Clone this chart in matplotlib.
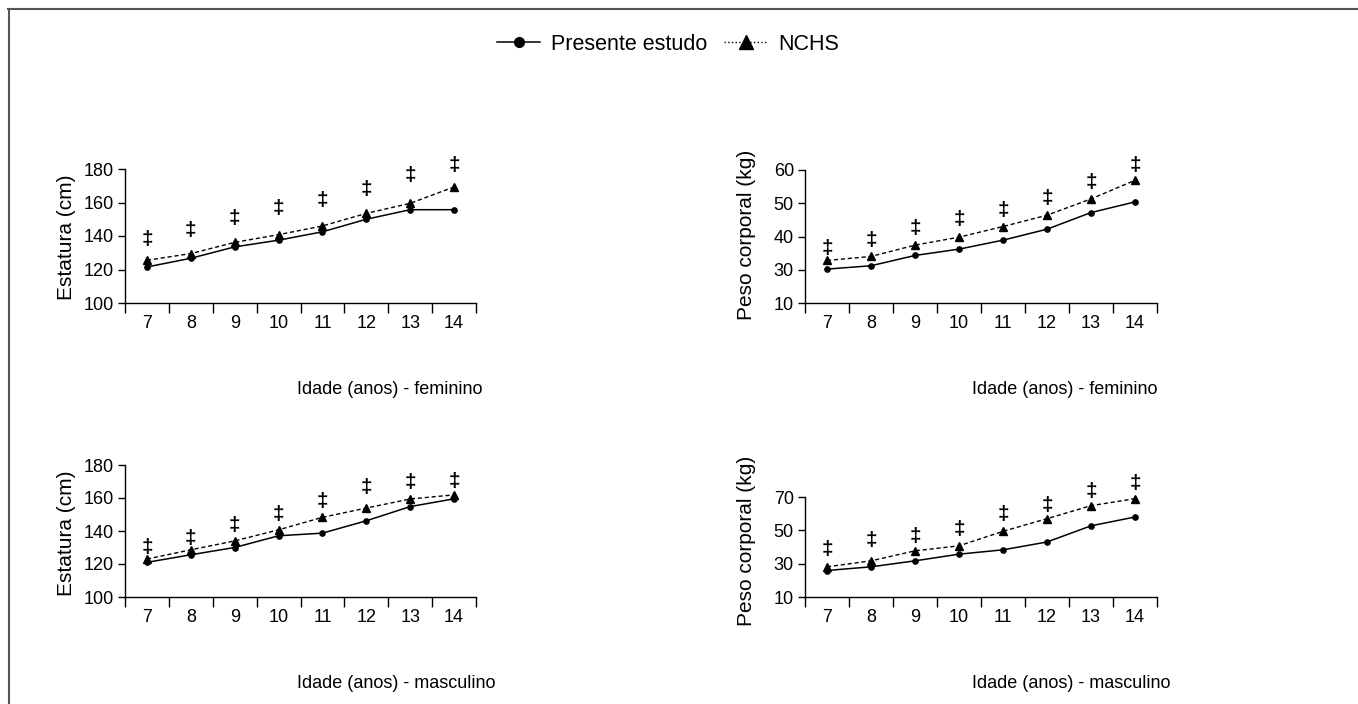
import matplotlib
matplotlib.use("Agg")
import matplotlib.pyplot as plt
from matplotlib.lines import Line2D
from matplotlib import font_manager

plt.rcParams['font.family'] = ['Liberation Sans', 'DejaVu Sans']

nomes = {f.name for f in font_manager.fontManager.ttflist}
fonte_ticks = 'Liberation Sans Narrow' if 'Liberation Sans Narrow' in nomes else 'Liberation Sans'
tam_ticks = 14 if fonte_ticks == 'Liberation Sans Narrow' else 13

W, H = 1358, 704

idade = ['7', '8', '9', '10', '11', '12', '13', '14']

# estatura feminino
est_f_estudo = [121.5, 126.7, 133.5, 137.5, 142.5, 150.0, 155.7, 155.7]
est_f_nchs = [125.5, 129.5, 136.2, 140.8, 146.0, 153.5, 159.5, 169.3]
est_f_sig = [137.8, 143.4, 150.5, 156.5, 160.9, 167.7, 176.4, 182.0]

# peso feminino (eixo com quebra: "10" fica no lugar de 20)
peso_f_estudo = [30.2, 31.2, 34.3, 36.2, 38.9, 42.2, 47.2, 50.4]
peso_f_nchs = [32.8, 34.0, 37.4, 39.8, 43.0, 46.4, 51.3, 56.9]
peso_f_sig = [36.5, 38.7, 42.5, 45.0, 47.8, 51.3, 56.3, 61.5]

# estatura masculino
est_m_estudo = [121.0, 125.6, 130.0, 137.1, 138.7, 146.2, 154.8, 159.5]
est_m_nchs = [123.0, 128.6, 134.0, 140.7, 148.3, 153.9, 159.4, 161.9]
est_m_sig = [130.2, 135.5, 143.1, 150.0, 158.0, 166.3, 169.4, 170.2]

# peso masculino
peso_m_estudo = [25.9, 28.1, 31.7, 35.7, 38.3, 43.0, 52.7, 58.0]
peso_m_nchs = [28.1, 31.7, 37.7, 40.7, 49.4, 57.0, 64.8, 69.0]
peso_m_sig = [38.5, 43.9, 46.1, 50.5, 59.5, 64.9, 73.6, 78.0]


def px(x0, y0, x1, y1):
    return [x0 / W, 1 - y1 / H, (x1 - x0) / W, (y1 - y0) / H]


fig = plt.figure(figsize=(W / 100, H / 100), dpi=100)

# moldura (so topo e esquerda visiveis)
fig.add_artist(Line2D([8 / W, 1], [1 - 9 / H, 1 - 9 / H], color='#555555', lw=1.5))
fig.add_artist(Line2D([9 / W, 9 / W], [0, 1 - 9 / H], color='#555555', lw=1.5))

paineis = [
    (px(125, 169, 476, 303), est_f_estudo, est_f_nchs, est_f_sig,
     (100, 180), [100, 120, 140, 160, 180], ['100', '120', '140', '160', '180'],
     'Estatura (cm)', (67, 237), 'Idade (anos) - feminino', (297, 390)),
    (px(805, 170, 1157, 303), peso_f_estudo, peso_f_nchs, peso_f_sig,
     (20, 60), [20, 30, 40, 50, 60], ['10', '30', '40', '50', '60'],
     'Peso corporal (kg)', (746, 235), 'Idade (anos) - feminino', (972, 390)),
    (px(125, 465, 476, 597), est_m_estudo, est_m_nchs, est_m_sig,
     (100, 180), [100, 120, 140, 160, 180], ['100', '120', '140', '160', '180'],
     'Estatura (cm)', (67, 533), 'Idade (anos) - masculino', (297, 683)),
    (px(805, 497, 1157, 597), peso_m_estudo, peso_m_nchs, peso_m_sig,
     (10, 70), [10, 30, 50, 70], ['10', '30', '50', '70'],
     'Peso corporal (kg)', (746, 541), 'Idade (anos) - masculino', (972, 683)),
]

x = list(range(len(idade)))

for rect, estudo, nchs, sig, ylim, yt, ytl, ylab, ylpos, xlab, xlpos in paineis:
    ax = fig.add_axes(rect)
    ax.plot(x, estudo, color='black', lw=1.1, marker='o', ms=3.8, clip_on=False)
    ax.plot(x, nchs, color='black', lw=1.0, ls=(0, (3, 2)), marker='^', ms=5.5, clip_on=False)
    for xi, yi in zip(x, sig):
        ax.text(xi, yi, '\u2021', ha='center', va='center', fontsize=15,
                fontweight='bold', clip_on=False)
    ax.set_xlim(-0.5, len(idade) - 0.5)
    ax.set_ylim(*ylim)
    ax.set_yticks(yt)
    ax.set_yticklabels(ytl, family=fonte_ticks)
    ax.set_xticks(x)
    ax.set_xticklabels(idade, family=fonte_ticks)
    ax.set_xticks([i - 0.5 for i in range(len(idade) + 1)], minor=True)
    ax.tick_params(axis='x', which='major', length=0, pad=9, labelsize=tam_ticks)
    ax.tick_params(axis='x', which='minor', length=7, width=1, direction='out')
    ax.tick_params(axis='y', length=5, width=1, pad=3, labelsize=tam_ticks)
    for s in ['top', 'right']:
        ax.spines[s].set_visible(False)
    for s in ['left', 'bottom']:
        ax.spines[s].set_linewidth(1)
    fig.text(ylpos[0] / W, 1 - ylpos[1] / H, ylab, rotation=90,
             ha='center', va='center', fontsize=15)
    fig.text(xlpos[0] / W, 1 - xlpos[1] / H, xlab, ha='left', va='center', fontsize=13)

handles = [
    Line2D([], [], color='black', lw=1.1, marker='o', ms=7),
    Line2D([], [], color='black', lw=1.0, ls=':', marker='^', ms=10),
]
fig.legend(handles, ['Presente estudo', 'NCHS'], loc='center',
           bbox_to_anchor=(668 / W, 1 - 44 / H), ncol=2, frameon=False,
           fontsize=15.5, handlelength=2.0, handletextpad=0.5, columnspacing=0.8)

fig.savefig('out.png', dpi=100)
